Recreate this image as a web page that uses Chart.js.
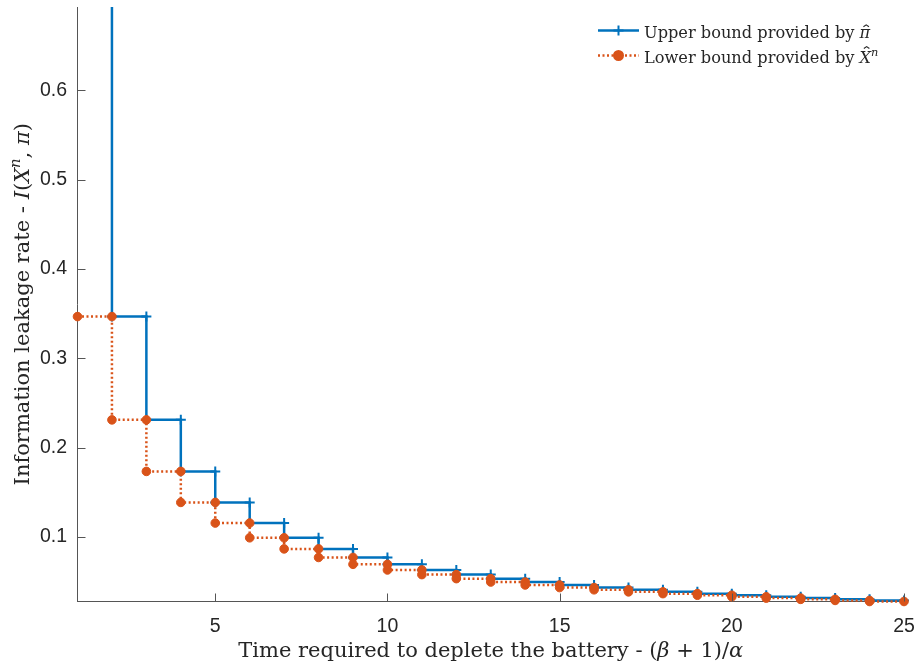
<!DOCTYPE html>
<html>
<head>
<meta charset="utf-8">
<script src="https://cdn.jsdelivr.net/npm/chart.js@4.4.1/dist/chart.umd.min.js"></script>
<style>
html, body { margin: 0; padding: 0; background: #fff; }
#wrap { width: 917px; height: 666px; position: relative; }
</style>
</head>
<body>
<div id="wrap"><canvas id="leakChart"></canvas></div>
<script>
// Step edges along the time axis
var stepEdges = [1, 2, 3, 4, 5, 6, 7, 8, 9, 10, 11, 12, 13, 14, 15, 16, 17, 18, 19, 20, 21, 22, 23, 24, 25];
// Level of each step [edge i, edge i+1]; the first upper step sits at the top of the axis
var upperLevels = [0.6931, 0.3466, 0.2310, 0.1733, 0.1386, 0.1155, 0.0990, 0.0866, 0.0770, 0.0693, 0.0630, 0.0578,
                   0.0533, 0.0495, 0.0462, 0.0433, 0.0408, 0.0385, 0.0365, 0.0347, 0.0330, 0.0315, 0.0301, 0.0289];
var lowerLevels = [0.3466, 0.2310, 0.1733, 0.1386, 0.1155, 0.0990, 0.0866, 0.0770, 0.0693, 0.0630, 0.0578, 0.0533,
                   0.0495, 0.0462, 0.0433, 0.0408, 0.0385, 0.0365, 0.0347, 0.0330, 0.0315, 0.0301, 0.0289, 0.0277];
var xTicks = [5, 10, 15, 20, 25];
var yTicks = [0.1, 0.2, 0.3, 0.4, 0.5, 0.6];
var xRange = [1, 25];
var yRange = [0.0277, 0.6931];

var BLUE = '#0072BD';
var ORANGE = '#D95319';
var TEXT = '#262626';
var SERIF = '"DejaVu Serif", "Liberation Serif", serif';

// upper bound comes in from the top at x = 2, then steps down
var upperPts = [{ x: stepEdges[1], y: upperLevels[0] }];
for (var i = 1; i < upperLevels.length; i++) {
    upperPts.push({ x: stepEdges[i], y: upperLevels[i] });
    upperPts.push({ x: stepEdges[i + 1], y: upperLevels[i] });
}
var upperRadius = upperPts.map(function (p, idx) { return idx === 0 ? 0 : 5; });

var lowerPts = [];
for (var j = 0; j < lowerLevels.length; j++) {
    lowerPts.push({ x: stepEdges[j], y: lowerLevels[j] });
    lowerPts.push({ x: stepEdges[j + 1], y: lowerLevels[j] });
}

// text made of plain / italic / superscript / hatted pieces
function richFont(p, size) {
    var s = p.sup ? size * 0.7 : size;
    return (p.it ? 'italic ' : '') + s + 'px ' + SERIF;
}
function richWidth(ctx, parts, size) {
    var w = 0;
    parts.forEach(function (p) { ctx.font = richFont(p, size); w += ctx.measureText(p.t).width; });
    return w;
}
function drawRich(ctx, parts, x, y, size, align) {
    var cx = align === 'center' ? x - richWidth(ctx, parts, size) / 2 : x;
    ctx.textAlign = 'left';
    ctx.textBaseline = 'alphabetic';
    parts.forEach(function (p) {
        ctx.font = richFont(p, size);
        var w = ctx.measureText(p.t).width;
        ctx.fillText(p.t, cx, p.sup ? y - size * 0.42 : y);
        if (p.hat) {
            // small circumflex over the glyph
            var hx = cx + w / 2 + size * 0.08;
            var hy = y - size * p.hat;
            ctx.save();
            ctx.strokeStyle = ctx.fillStyle;
            ctx.lineWidth = size * 0.07;
            ctx.beginPath();
            ctx.moveTo(hx - size * 0.17, hy + size * 0.12);
            ctx.lineTo(hx, hy);
            ctx.lineTo(hx + size * 0.17, hy + size * 0.12);
            ctx.stroke();
            ctx.restore();
        }
        cx += w;
    });
}

var xTitle = [{ t: 'Time required to deplete the battery - (' }, { t: '\u03B2', it: true }, { t: ' + 1)/' }, { t: '\u03B1', it: true }];
var yTitle = [{ t: 'Information leakage rate - ' }, { t: 'I', it: true }, { t: '(' }, { t: 'X', it: true },
              { t: 'n', it: true, sup: true }, { t: ', ' }, { t: '\u03C0', it: true }, { t: ')' }];
var legendRows = [
    { parts: [{ t: 'Upper bound provided by ' }, { t: '\u03C0', it: true, hat: 0.78 }], color: BLUE, dash: [], marker: 'cross' },
    { parts: [{ t: 'Lower bound provided by ' }, { t: 'X', it: true, hat: 0.98 }, { t: 'n', it: true, sup: true }], color: ORANGE, dash: [2, 2.5], marker: 'circle' }
];

// inward tick marks, axis titles and legend
var decorations = {
    id: 'decorations',
    afterDraw: function (chart) {
        var ctx = chart.ctx;
        var area = chart.chartArea;
        var xs = chart.scales.x, ys = chart.scales.y;
        ctx.save();
        ctx.strokeStyle = '#555';
        ctx.lineWidth = 1;
        ctx.beginPath();
        xTicks.forEach(function (v) {
            var px = Math.round(xs.getPixelForValue(v)) + 0.5;
            ctx.moveTo(px, area.bottom);
            ctx.lineTo(px, area.bottom - 8);
        });
        yTicks.forEach(function (v) {
            var py = Math.round(ys.getPixelForValue(v)) + 0.5;
            ctx.moveTo(area.left, py);
            ctx.lineTo(area.left + 8, py);
        });
        ctx.stroke();

        ctx.fillStyle = TEXT;
        drawRich(ctx, xTitle, (area.left + area.right) / 2, 657, 21, 'center');
        ctx.save();
        ctx.translate(29, (area.top + area.bottom) / 2);
        ctx.rotate(-Math.PI / 2);
        drawRich(ctx, yTitle, 0, 0, 21, 'center');
        ctx.restore();

        legendRows.forEach(function (row, k) {
            var y = 30.5 + k * 25;
            ctx.save();
            ctx.strokeStyle = row.color;
            ctx.lineWidth = 2.5;
            ctx.setLineDash(row.dash);
            ctx.beginPath();
            ctx.moveTo(598, y);
            ctx.lineTo(639, y);
            ctx.stroke();
            ctx.setLineDash([]);
            ctx.fillStyle = row.color;
            ctx.lineWidth = 2;
            Chart.helpers.drawPoint(ctx, { pointStyle: row.marker, radius: row.marker === 'circle' ? 4.5 : 5, borderWidth: 2 }, 618.5, y);
            if (row.marker === 'circle') { ctx.fill(); }
            ctx.restore();
            ctx.fillStyle = TEXT;
            drawRich(ctx, row.parts, 644, y + 7, 16.2, 'left');
        });
        ctx.restore();
    }
};

var tickFont = { family: '"Liberation Sans", Arial, sans-serif', size: 19.5 };

new Chart(document.getElementById('leakChart'), {
    type: 'line',
    data: {
        datasets: [{
            label: 'Upper bound',
            data: upperPts,
            borderColor: BLUE,
            backgroundColor: BLUE,
            borderWidth: 2.5,
            pointStyle: 'cross',
            pointRadius: upperRadius,
            pointBorderWidth: 2,
            pointBorderColor: BLUE,
            tension: 0,
            fill: false,
            clip: false,
            order: 2
        }, {
            label: 'Lower bound',
            data: lowerPts,
            borderColor: ORANGE,
            backgroundColor: ORANGE,
            borderWidth: 2.5,
            borderDash: [2, 2.5],
            pointStyle: 'circle',
            pointRadius: 4.3,
            pointBorderWidth: 1,
            pointBorderColor: ORANGE,
            pointBackgroundColor: ORANGE,
            tension: 0,
            fill: false,
            clip: false,
            order: 1
        }]
    },
    options: {
        responsive: true,
        maintainAspectRatio: false,
        animation: false,
        layout: { padding: { top: 6, right: 13, left: 0, bottom: 0 } },
        plugins: {
            legend: { display: false },
            tooltip: { enabled: false }
        },
        scales: {
            x: {
                type: 'linear',
                min: xRange[0],
                max: xRange[1],
                afterBuildTicks: function (s) { s.ticks = xTicks.map(function (v) { return { value: v }; }); },
                afterFit: function (s) { s.height = 64.5; s.paddingLeft = 0; s.paddingRight = 0; },
                grid: { display: false, drawTicks: false },
                border: { display: true, color: '#555', width: 1 },
                ticks: { font: tickFont, color: TEXT, padding: 13, maxRotation: 0 }
            },
            y: {
                type: 'linear',
                min: yRange[0],
                max: yRange[1],
                afterBuildTicks: function (s) { s.ticks = yTicks.map(function (v) { return { value: v }; }); },
                afterFit: function (s) { s.width = 77.5; s.paddingTop = 0; s.paddingBottom = 0; },
                grid: { display: false, drawTicks: false },
                border: { display: true, color: '#555', width: 1 },
                ticks: { font: tickFont, color: TEXT, padding: 10.5, callback: function (v) { return v.toFixed(1); } }
            }
        }
    },
    plugins: [decorations]
});
</script>
</body>
</html>
